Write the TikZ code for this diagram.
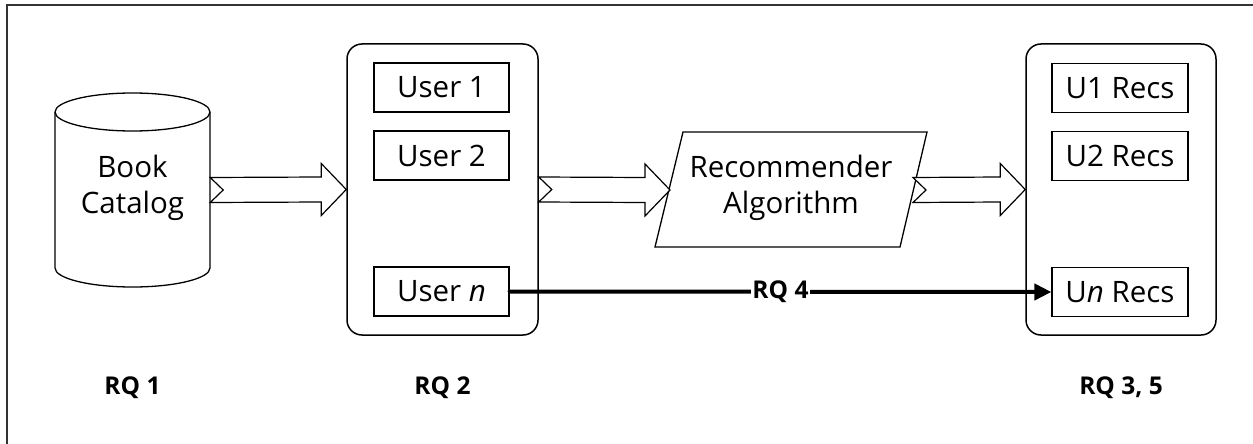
\documentclass[tikz,border=0pt]{standalone}
\usepackage{fontspec}
\setmainfont{Open Sans}
\usetikzlibrary{calc,arrows.meta}
\newcommand\bigarrow[2]{%
  \draw[blk] ($(#1)+(0,12.5)$) -- ($(#2)+(-25,12.5)$) -- ($(#2)+(-25,26)$) -- (#2)
    -- ($(#2)+(-25,-26)$) -- ($(#2)+(-25,-12.5)$) -- ($(#1)+(0,-12.5)$) -- ($(#1)+(13,0)$) -- cycle;}
\begin{document}
\begin{tikzpicture}[x=1pt,y=1pt,
  blk/.style={draw=black,line width=1.2pt,fill=white,line join=miter},
  txt/.style={font=\fontsize{29.5}{36}\selectfont,align=center},
  rq/.style={font=\fontsize{24.5}{30}\selectfont\bfseries},
  container/.style={draw=black,line width=1.5pt,rounded corners=15pt,fill=white,minimum width=#1,minimum height=291pt,inner sep=0pt},
  itembox/.style={draw=black,line width=1.2pt,fill=white,minimum width=#1,minimum height=49pt,inner sep=0pt,font=\fontsize{29.5}{36}\selectfont},
]
\useasboundingbox (0,0) rectangle (1253,-444);
\fill[white] (0,0) rectangle (1253,-444);
% frame
\draw[line width=1.2pt,black!80] (7,-444) -- (7,-5) -- (1253,-5);

% cylinder
\node[txt,minimum width=155pt,minimum height=194pt,inner sep=0pt] (cat) at (132.5,-190) {};
\draw[blk,line width=1.3pt] (55,-112) -- (55,-268) arc[start angle=180,end angle=360,x radius=77.5,y radius=19]
  -- (210,-112) arc[start angle=0,end angle=180,x radius=77.5,y radius=19] -- cycle;
\draw[line width=1.3pt] (55,-112) arc[start angle=180,end angle=360,x radius=77.5,y radius=19];
\node[txt] (cattxt) at (132.5,-188) {Book\\Catalog};

% users container
\node[container=191pt] (usr) at (442.5,-189.5) {};
\node[itembox=135pt] (u1) at (441.5,-87.5) {User 1};
\node[itembox=135pt] (u2) at (441.5,-155.5) {User 2};
\node[itembox=135pt] (un) at (441.5,-291.5) {User \textit{n}};

% recs container
\node[container=190pt] (rec) at (1121,-189.5) {};
\node[itembox=136pt] (r1) at (1120,-88) {U1 Recs};
\node[itembox=136pt] (r2) at (1120,-156) {U2 Recs};
\node[itembox=136pt] (rn) at (1120,-292) {U\textit{n} Recs};

% algorithm parallelogram
\draw[blk,line width=1.3pt] (655,-247) -- (900,-247) -- (927,-132) -- (683,-132) -- cycle;
\node[txt] (alg) at (791,-188) {Recommender\\Algorithm};
\coordinate (algin) at (670,-190);
\coordinate (algout) at (913,-190);

% block arrows
\coordinate (catout) at (cat.east);
\bigarrow{catout}{usr.west}
\bigarrow{usr.east}{algin}
\bigarrow{algout}{rec.west}

% RQ 4 connector
\draw[line width=4pt,line cap=round,-{Triangle[length=17pt,width=16pt]}] (un.east) -- (rn.west)
  node[pos=0.5,fill=white,inner sep=1pt,rq] (rq4) {RQ 4};

% RQ labels
\node[rq,anchor=base] (rq1) at (132.5,-394) {RQ 1};
\node[rq,anchor=base] (rq2) at (442.5,-394) {RQ 2};
\node[rq,anchor=base] (rq35) at (1121,-394) {RQ 3, 5};
\end{tikzpicture}
\end{document}
